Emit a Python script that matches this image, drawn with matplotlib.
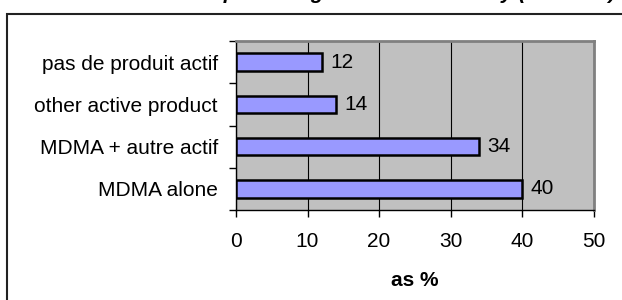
import matplotlib.pyplot as plt
import matplotlib.patches as mpatches
import numpy as np

plt.rcParams['font.family'] = ['Liberation Sans', 'DejaVu Sans']

categories = ['MDMA alone', 'MDMA + autre actif', 'other active product', 'pas de produit actif']
values = [40, 34, 14, 12]
x_ticks = [0, 10, 20, 30, 40, 50]
title = 'Tablet content: percentage of seized ecstasy (n = 1044)'
x_label = 'as %'

W, H = 622, 300
fig = plt.figure(figsize=(W / 100, H / 100), dpi=100)

# outer frame (runs past the right and bottom edges)
fig.patches.append(mpatches.Rectangle((7.5 / W, -0.1), 1.2, (H - 13.5) / H + 0.1,
                                      transform=fig.transFigure, fill=False,
                                      edgecolor='#222222', linewidth=1.5))

# title, almost entirely above the picture
fig.text(616 / W, 1.0 + 1.0 / H, title, ha='right', va='baseline',
         fontsize=15, fontweight='bold', fontstyle='italic')

ax = fig.add_axes([236 / W, 1 - 210 / H, 357.5 / W, 169 / H])
ax.set_facecolor('#C0C0C0')

y = np.arange(len(categories))
ax.barh(y, values, height=0.42, color='#9999FF', edgecolor='black', linewidth=1.8, zorder=3)
for yi, v in zip(y, values):
    ax.annotate(str(v), (v, yi), xytext=(6, 0), textcoords='offset points',
                va='center', ha='left', fontsize=15)

ax.set_xlim(0, 50)
ax.set_ylim(-0.5, len(categories) - 0.5)
ax.set_xticks(x_ticks)
ax.set_xticklabels([str(t) for t in x_ticks], fontsize=15)
ax.tick_params(axis='x', direction='out', length=5, width=1, pad=11)
ax.xaxis.grid(True, color='black', linewidth=0.8, zorder=0)
ax.set_axisbelow(True)

# category ticks sit between the bars, labels at the bar centres
ax.set_yticks(np.arange(-0.5, len(categories), 1.0))
ax.set_yticklabels([])
ax.set_yticks(y, minor=True)
ax.set_yticklabels(categories, minor=True, fontsize=15)
ax.tick_params(axis='y', which='major', direction='out', length=5, width=1)
ax.tick_params(axis='y', which='minor', length=0, pad=13)

ax.set_xlabel(x_label, fontsize=15, fontweight='bold', labelpad=14)

for s in ['top', 'right']:
    ax.spines[s].set_color('#808080')
    ax.spines[s].set_linewidth(2)
for s in ['left', 'bottom']:
    ax.spines[s].set_color('black')
    ax.spines[s].set_linewidth(1)

fig.savefig('out.png', dpi=100)
